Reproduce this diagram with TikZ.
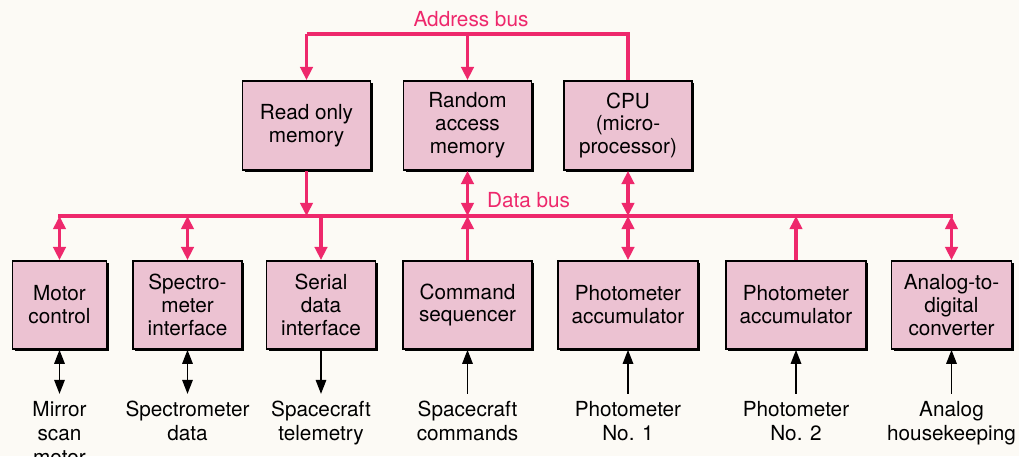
\documentclass[tikz,border=0pt]{standalone}
\usepackage{fontspec}
\setmainfont{TeX Gyre Heros}
\usetikzlibrary{arrows.meta,shadows,positioning}
\definecolor{buspink}{RGB}{238,40,108}
\definecolor{boxpink}{RGB}{236,194,210}
\definecolor{paper}{RGB}{252,250,245}

\begin{document}
\begin{tikzpicture}[
    unit/.style ={rectangle, draw, line width=1pt, fill=boxpink, align=center, inner sep=2pt,
       font=\fontsize{11.8}{13}\selectfont,
       drop shadow={shadow xshift=1.3pt, shadow yshift=-1.3pt, fill=black, opacity=1}},
    signal/.style ={align=center, inner sep=4pt, font=\fontsize{11.8}{13.6}\selectfont},
    buslabel/.style ={text=buspink, inner sep=1pt, font=\fontsize{11.8}{13}\selectfont},
    bus/.style ={buspink, line width=2pt},
    wire/.style ={black, line width=0.9pt},
    ptip/.tip ={Triangle[length=7.5pt, width=7pt]},
    btip/.tip ={Triangle[length=8pt, width=6pt]}]
   \useasboundingbox (0,0) rectangle (20.38,9.12);
   \fill[paper] (0,0) rectangle (20.38,9.12);
   \coordinate (ab) at (0,8.44);
   \coordinate (db) at (0,4.80);
   % top row
   \node[unit, minimum width=2.56cm, minimum height=1.78cm] (ROM) at (6.13,6.61) {Read only\\memory};
   \node[unit, minimum width=2.56cm, minimum height=1.78cm] (RAM) at (9.35,6.61) {Random\\access\\memory};
   \node[unit, minimum width=2.56cm, minimum height=1.78cm] (CPU) at (12.56,6.61) {CPU\\(micro-\\processor)};
   % bottom row
   \node[unit, minimum width=1.88cm, minimum height=1.76cm] (MC)  at (1.19,3.02)  {Motor\\control};
   \node[unit, minimum width=2.18cm, minimum height=1.76cm] (SI)  at (3.75,3.02)  {Spectro-\\meter\\interface};
   \node[unit, minimum width=2.18cm, minimum height=1.76cm] (SDI) at (6.42,3.02)  {Serial\\data\\interface};
   \node[unit, minimum width=2.58cm, minimum height=1.76cm] (CS)  at (9.35,3.02)  {Command\\sequencer};
   \node[unit, minimum width=2.80cm, minimum height=1.76cm] (PA1) at (12.56,3.02) {Photometer\\accumulator};
   \node[unit, minimum width=2.80cm, minimum height=1.76cm] (PA2) at (15.92,3.02) {Photometer\\accumulator};
   \node[unit, minimum width=2.40cm, minimum height=1.76cm] (ADC) at (19.03,3.02) {Analog-to-\\digital\\converter};
   % outside signals
   \node[signal, below=0.88cm of MC]  (MCs)  {Mirror\\scan\\motor};
   \node[signal, below=0.88cm of SI]  (SIs)  {Spectrometer\\data};
   \node[signal, below=0.88cm of SDI] (SDIs) {Spacecraft\\telemetry};
   \node[signal, below=0.88cm of CS]  (CSs)  {Spacecraft\\commands};
   \node[signal, below=0.88cm of PA1] (PA1s) {Photometer\\No. 1};
   \node[signal, below=0.88cm of PA2] (PA2s) {Photometer\\No. 2};
   \node[signal, below=0.88cm of ADC] (ADCs) {Analog\\housekeeping};
   % bus labels
   \node[buslabel] (abl) at (9.42,8.74) {Address bus};
   \node[buslabel, anchor=west] (dbl) at (9.70,5.12) {Data bus};
   % address bus
   \draw[bus] (ROM.north |- ab) -- (CPU.north |- ab) -- (CPU.north);
   \draw[bus, -ptip] (ROM.north |- ab) -- (ROM.north);
   \draw[bus, -ptip] (RAM.north |- ab) -- (RAM.north);
   % data bus
   \draw[bus, line cap=rect] (MC.north |- db) -- (ADC.north |- db);
   \draw[bus, -ptip] (ROM.south) -- (ROM.south |- db);
   \draw[bus, ptip-ptip] (RAM.south) -- (RAM.south |- db);
   \draw[bus, ptip-ptip] (CPU.south) -- (CPU.south |- db);
   \draw[bus, ptip-ptip] (MC.north |- db) -- (MC.north);
   \draw[bus, ptip-ptip] (SI.north |- db) -- (SI.north);
   \draw[bus, -ptip] (SDI.north |- db) -- (SDI.north);
   \draw[bus, -ptip] (CS.north) -- (CS.north |- db);
   \draw[bus, ptip-ptip] (PA1.north |- db) -- (PA1.north);
   \draw[bus, -ptip] (PA2.north) -- (PA2.north |- db);
   \draw[bus, ptip-ptip] (ADC.north |- db) -- (ADC.north);
   % outside connections
   \draw[wire, btip-btip] (MC) -- (MCs);
   \draw[wire, btip-btip] (SI) -- (SIs);
   \draw[wire, -btip] (SDI) -- (SDIs);
   \draw[wire, -btip] (CSs) -- (CS);
   \draw[wire, -btip] (PA1s) -- (PA1);
   \draw[wire, -btip] (PA2s) -- (PA2);
   \draw[wire, -btip] (ADCs) -- (ADC);
\end{tikzpicture}
\end{document}
